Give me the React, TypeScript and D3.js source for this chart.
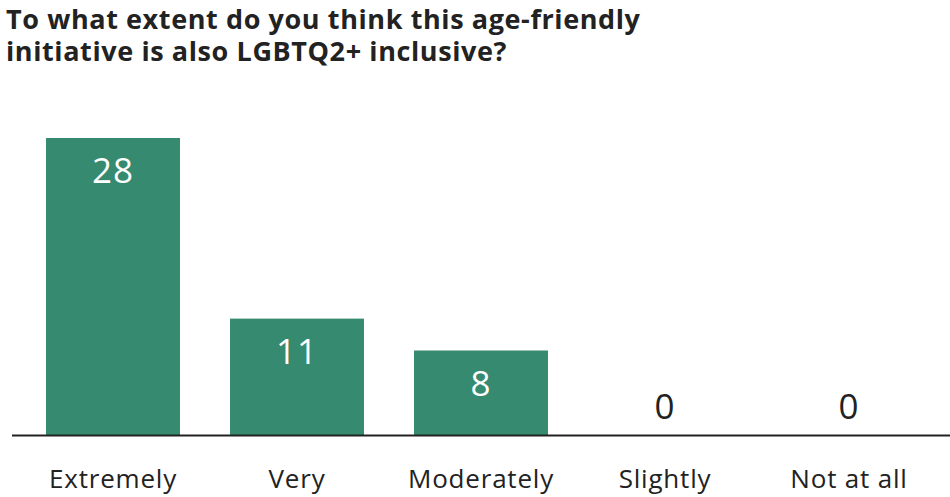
import React from "react";
import * as d3 from "d3";

const title = ["To what extent do you think this age-friendly", "initiative is also LGBTQ2+ inclusive?"];
const categories = ["Extremely", "Very", "Moderately", "Slightly", "Not at all"];
const values = [28, 11, 8, 0, 0];

const W = 950;
const H = 497;
const FONT = "'Open Sans', sans-serif";
const GREEN = "#358a6f";
const TEXT = "#222222";

export default function App() {
  const x = d3
    .scaleBand<string>()
    .domain(categories)
    .range([21, 941])
    .paddingInner(0.272)
    .paddingOuter(0.136);
  const y = d3.scaleLinear().domain([0, 28]).range([435.5, 138]);
  const baseY = y(0);

  return (
    <svg
      width={W}
      height={H}
      style={{ position: "absolute", left: 0, top: 0, display: "block", background: "#fff" }}
    >
      <g fontFamily={FONT} fontWeight={700} fontSize={27} fill={TEXT} letterSpacing={0.6}>
        {title.map((t, i) => (
          <text key={i} x={6} y={29 + i * 32}>
            {t}
          </text>
        ))}
      </g>
      {categories.map((c, i) => {
        const v = values[i];
        const bx = x(c)!;
        const bw = x.bandwidth();
        const top = y(v);
        const cx = bx + bw / 2;
        return (
          <g key={c}>
            {v > 0 && <rect x={bx} y={top} width={bw} height={baseY - top} fill={GREEN} />}
            <text
              x={cx}
              y={v > 0 ? top + 45 : baseY - 17}
              textAnchor="middle"
              fontFamily={FONT}
              fontSize={35}
              letterSpacing={1}
              fill={v > 0 ? "#ffffff" : TEXT}
            >
              {v}
            </text>
            <text
              x={cx}
              y={488}
              textAnchor="middle"
              fontFamily={FONT}
              fontSize={26}
              letterSpacing={0.8}
              fill={TEXT}
            >
              {c}
            </text>
          </g>
        );
      })}
      <line x1={12} x2={W} y1={baseY} y2={baseY} stroke={TEXT} strokeWidth={2} />
    </svg>
  );
}
